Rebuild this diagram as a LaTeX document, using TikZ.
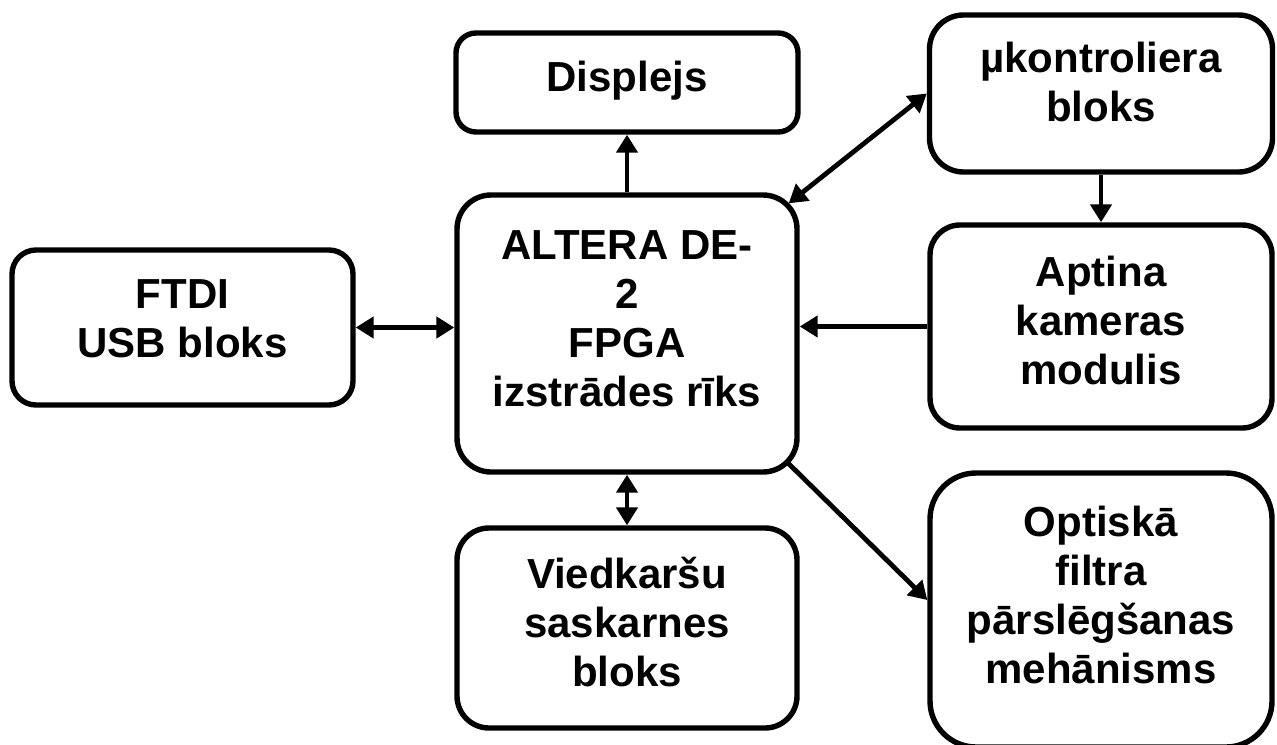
\documentclass[tikz,border=0pt]{standalone}
\usepackage{fontspec}
\setmainfont{Liberation Sans}
\usetikzlibrary{
  arrows.meta,
  positioning
}
% papildu dziļums pēdējai rindai (teksts paceļas uz augšu)
\newcommand{\dzilums}[1]{\rule[-#1]{0pt}{#1}}

\begin{document}
\begin{tikzpicture}[x=0.5pt, y=-0.5pt,
    blok/.style={draw, line width=2.7pt, rounded corners=#1, align=center, inner sep=0pt,
      font=\bfseries\fontsize{21pt}{24.5pt}\selectfont},
    blok/.default=15pt,
    savienojums/.style={line width=2.4pt, >={Triangle[length=9pt,width=10.5pt]}}]
  \def\Xa{182.5}
  \def\Xm{627}
  \def\Xr{1101}
  \def\Yt{82.5}
  \def\Ym{330}
  \def\Yb{628}
  \useasboundingbox (0,0) rectangle (1277,744);

        % kreisa kolonna
        \node[blok=12pt, minimum width=170.5pt, minimum height=77.5pt] (ftdi) at (\Xa, 327.5)
             {FTDI\\USB bloks\dzilums{9.3pt}};

        % vidus kolonna
        \node[blok=10pt, minimum width=171pt, minimum height=49.5pt] (disp) at (\Xm, \Yt)
             {Displejs\dzilums{6.4pt}};
        \node[blok=17pt, minimum width=170pt, minimum height=138.5pt] (alt) at (\Xm, 333.5)
             {ALTERA DE-\\2\\FPGA\\izstrādes rīks\dzilums{15.3pt}};
        \node[blok=16pt, minimum width=170pt, minimum height=100pt] (vied) at (\Xm, \Yb)
             {Viedkaršu\\saskarnes\\bloks\dzilums{6.3pt}};

        % laba kolonna
        \node[blok=17pt, minimum width=171.5pt, minimum height=78.5pt] (mcu) at (\Xr, 93.5)
             {µkontroliera\\bloks\dzilums{11.3pt}};
        \node[blok=15pt, minimum width=171pt, minimum height=101.5pt] (apt) at (\Xr, 326.5)
             {Aptina\\kameras\\modulis\dzilums{6.3pt}};
        \node[blok=23pt, minimum width=171pt, minimum height=137pt] (opt) at (\Xr, 610)
             {Optiskā\\filtra\\pārslēgšanas\\mehānisms\dzilums{15pt}};

	\draw[savienojums, ->] (alt.north) -- (disp.south);   % FPGA -> displejs
	\draw[savienojums, <->] ([shift={(-11,11)}]alt.north east) -- (mcu.west);
	\draw[savienojums, <->] (ftdi.east) -- (ftdi.east -| alt.west);
	\draw[savienojums, ->] (apt.west) -- (apt.west -| alt.east);   % kamera -> FPGA
	\draw[savienojums, ->] (mcu.south) -- (mcu.south |- apt.north);
	\draw[savienojums, <->] (alt.south) -- (vied.north);
	\draw[savienojums, ->] ([shift={(-11,-11)}]alt.south east) -- ([shift={(0,-10)}]opt.west);

\end{tikzpicture}
\end{document}
